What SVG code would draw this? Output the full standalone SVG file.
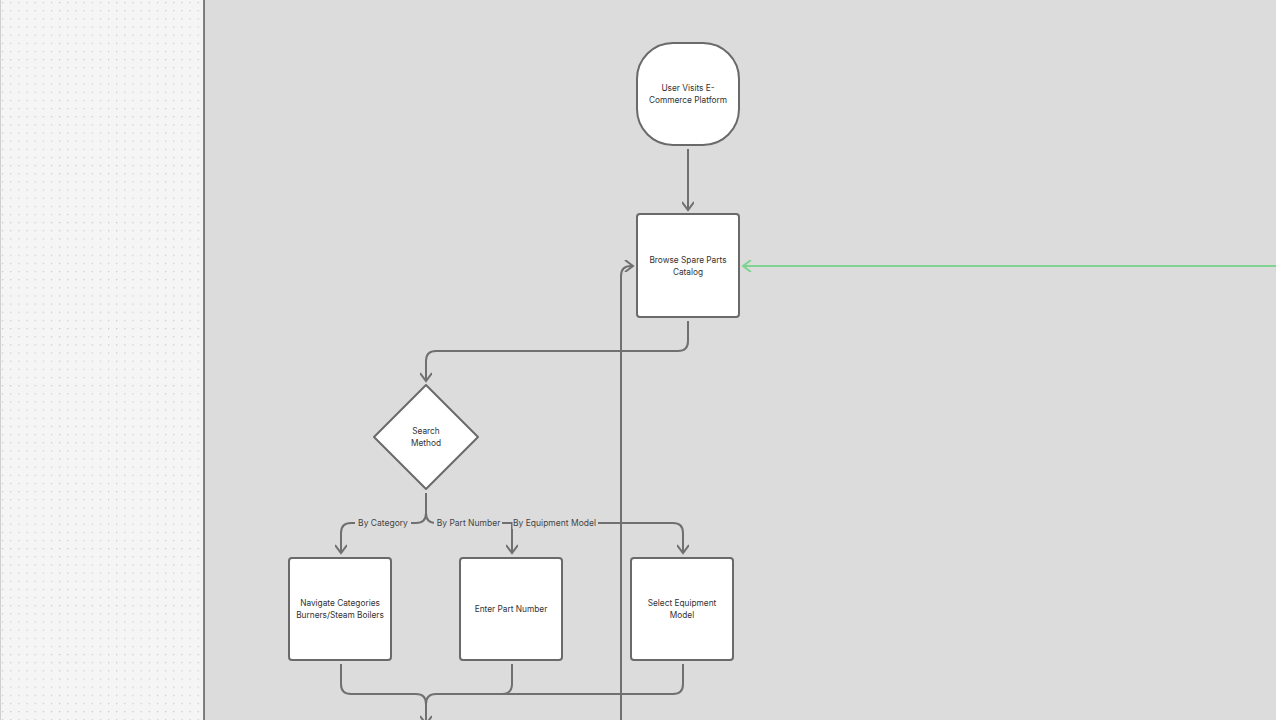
<svg xmlns="http://www.w3.org/2000/svg" width="1276" height="720" viewBox="0 0 1276 720">
<defs>
<pattern id="dots" x="2" y="2" width="8.15" height="8.15" patternUnits="userSpaceOnUse">
<rect x="0" y="0" width="1.2" height="1.2" fill="#c6c6c6"/>
</pattern>
<marker id="arr" viewBox="0 0 12 12" refX="10" refY="6" markerWidth="12" markerHeight="12" markerUnits="userSpaceOnUse" orient="auto">
<path d="M2 0 L10 6 L2 12" fill="none" stroke="#707070" stroke-width="2"/>
</marker>
<marker id="arrg" viewBox="0 0 12 12" refX="10" refY="6" markerWidth="12" markerHeight="12" markerUnits="userSpaceOnUse" orient="auto">
<path d="M2 0 L10 6 L2 12" fill="none" stroke="#7fd491" stroke-width="2"/>
</marker>
</defs>
<style>
.node{fill:#ffffff;stroke:#6a6a6a;stroke-width:2}
.t{font-family:Inter,"Liberation Sans",sans-serif;font-size:8.3px;fill:#333;text-anchor:middle}
.lbl{font-family:Inter,"Liberation Sans",sans-serif;font-size:8.5px;fill:#444;text-anchor:middle}
.c{fill:none;stroke:#707070;stroke-width:2}
.g{fill:none;stroke:#7fd491;stroke-width:2}
.lb{fill:#dcdcdc}
</style>
<rect x="0" y="0" width="1276" height="720" fill="#dcdcdc"/>
<rect x="0" y="0" width="204" height="720" fill="#f5f5f5"/>
<rect x="0" y="0" width="204" height="720" fill="url(#dots)"/>
<line x1="0.5" y1="0" x2="0.5" y2="720" stroke="#cfcfcf" stroke-width="1"/>
<line x1="204" y1="0" x2="204" y2="720" stroke="#5a5a5a" stroke-width="1.5"/>

<g id="connectors">
<path class="c" d="M688 149 V210" marker-end="url(#arr)"/>
<path class="c" d="M688 321 V341 Q688 351 678 351 H436 Q426 351 426 361 V381" marker-end="url(#arr)"/>
<path class="c" d="M426 493 V513 Q426 523 416 523 H351 Q341 523 341 533 V553" marker-end="url(#arr)"/>
<path class="c" d="M426 493 V513 Q426 523 436 523 H673 Q683 523 683 533 V553" marker-end="url(#arr)"/>
<path class="c" d="M512 523 V553" marker-end="url(#arr)"/>
<path class="c" d="M341 664 V684 Q341 694 351 694 H416 Q426 694 426 704 V724" marker-end="url(#arr)"/>
<path class="c" d="M512 664 V684 Q512 694 502 694 H436 Q426 694 426 704"/>
<path class="c" d="M683 664 V684 Q683 694 673 694 H502"/>
<path class="c" d="M621 730 V276 Q621 266 631 266 H633" marker-end="url(#arr)"/>
<path class="g" d="M1280 266 H743" marker-end="url(#arrg)"/>
<rect class="lb" x="355" y="517" width="56" height="12"/>
<text class="lbl" x="383" y="526">By Category</text>
<rect class="lb" x="434" y="517" width="68" height="12"/>
<text class="lbl" x="468.5" y="526">By Part Number</text>
<rect class="lb" x="512.5" y="517" width="85.5" height="12"/>
<text class="lbl" x="554.5" y="526">By Equipment Model</text>
</g>

<g id="start">
<rect class="node" x="637" y="43" width="102" height="102" rx="36"/>
<text class="t" x="688" y="91">User Visits E-</text>
<text class="t" x="688" y="103">Commerce Platform</text>
</g>
<g id="browse">
<rect class="node" x="637" y="214" width="102" height="103" rx="3"/>
<text class="t" x="688" y="263">Browse Spare Parts</text>
<text class="t" x="688" y="275">Catalog</text>
</g>
<g id="search">
<path class="node" d="M426 385 L478 437 L426 489 L374 437 Z" stroke-linejoin="round"/>
<text class="t" x="426" y="434">Search</text>
<text class="t" x="426" y="446">Method</text>
</g>
<g id="category">
<rect class="node" x="289" y="558" width="102" height="102" rx="3"/>
<text class="t" x="340" y="606">Navigate Categories</text>
<text class="t" x="340" y="618">Burners/Steam Boilers</text>
</g>
<g id="partnumber">
<rect class="node" x="460" y="558" width="102" height="102" rx="3"/>
<text class="t" x="511" y="612">Enter Part Number</text>
</g>
<g id="equipment">
<rect class="node" x="631" y="558" width="102" height="102" rx="3"/>
<text class="t" x="682" y="606">Select Equipment</text>
<text class="t" x="682" y="618">Model</text>
</g>
</svg>
